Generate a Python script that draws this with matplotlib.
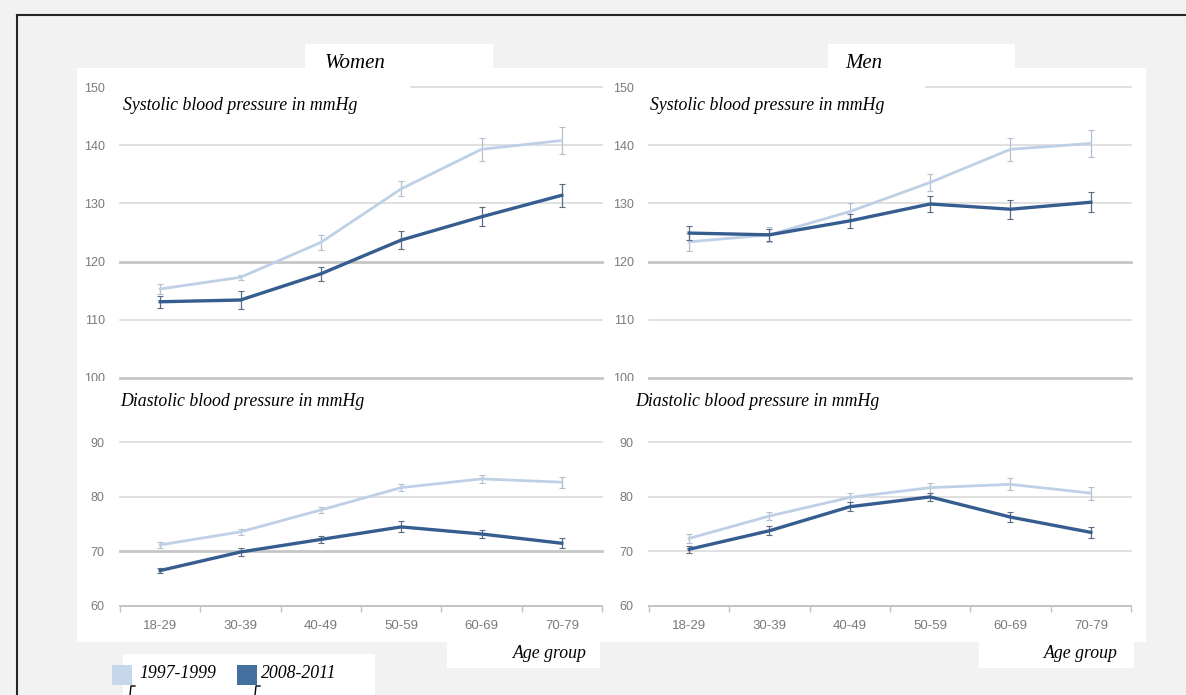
import matplotlib
matplotlib.use("Agg")
import matplotlib.pyplot as plt
from matplotlib.patches import Rectangle
from matplotlib.lines import Line2D

W, H = 1186, 695
DPI = 100

age_groups = ["18-29", "30-39", "40-49", "50-59", "60-69", "70-79"]
periods = ["1997-1999", "2008-2011"]

# systolic / diastolic means (mmHg)
women_sys_9799 = [115.3, 117.3, 123.3, 132.5, 139.3, 140.8]
women_sys_0811 = [113.1, 113.4, 117.9, 123.7, 127.7, 131.4]
women_dia_9799 = [71.2, 73.6, 77.6, 81.7, 83.3, 82.7]
women_dia_0811 = [66.5, 69.9, 72.2, 74.5, 73.2, 71.5]

men_sys_9799 = [123.4, 124.6, 128.6, 133.6, 139.3, 140.3]
men_sys_0811 = [124.9, 124.6, 127.0, 129.9, 129.0, 130.2]
men_dia_9799 = [72.4, 76.5, 79.9, 81.7, 82.3, 80.7]
men_dia_0811 = [70.4, 73.8, 78.2, 80.0, 76.3, 73.5]

# half widths of the confidence intervals
women_sys_9799_err = [0.8, 0.4, 1.3, 1.3, 2.0, 2.3]
women_sys_0811_err = [1.0, 1.5, 1.2, 1.6, 1.6, 2.0]
women_dia_9799_err = [0.5, 0.5, 0.6, 0.6, 0.8, 1.0]
women_dia_0811_err = [0.5, 0.8, 0.7, 1.0, 0.8, 0.9]
men_sys_9799_err = [1.6, 1.3, 1.5, 1.5, 2.0, 2.3]
men_sys_0811_err = [1.2, 1.0, 1.2, 1.3, 1.6, 1.7]
men_dia_9799_err = [0.8, 0.8, 0.8, 0.9, 1.1, 1.2]
men_dia_0811_err = [0.6, 0.8, 0.8, 0.8, 0.9, 1.0]

sys_ticks = [100, 110, 120, 130, 140, 150]
dia_ticks = [60, 70, 80, 90]

LIGHT = "#bfcfe5"
DARK = "#365d8f"
LEGEND_LIGHT = "#c6d7ec"
LEGEND_DARK = "#44709f"
GRID = "#dadada"
GRID_STRONG = "#c6c6c6"
TICK = "#7a7a7a"
SERIF = "Liberation Serif"
SANS = "Liberation Sans"


def px_rect(x0, y0, x1, y1):
    # pixel box (top-down) -> figure fractions
    return [x0 / W, 1 - y1 / H, (x1 - x0) / W, (y1 - y0) / H]


def fx(x):
    return x / W


def fy(y):
    return 1 - y / H


def draw_panel(ax, light, light_err, dark, dark_err, ylim, yticks, strong, mask=None, bottom=False):
    x = list(range(len(age_groups)))
    ax.set_facecolor("none")
    ax.set_xlim(-0.5, 5.5)
    ax.set_ylim(*ylim)
    for s in ax.spines.values():
        s.set_visible(False)

    for v in yticks:
        if bottom and v == yticks[0]:
            continue
        if v in strong:
            ax.axhline(v, color=GRID_STRONG, lw=2.0, zorder=0.5, clip_on=False)
        else:
            ax.axhline(v, color=GRID, lw=1.2, zorder=0.5, clip_on=False)

    if mask is not None:
        # white label box hiding the start of the top gridline
        ax.add_patch(Rectangle((-0.05, 0.9), mask + 0.05, 0.13, transform=ax.transAxes,
                               color="white", zorder=1, clip_on=False))

    ax.errorbar(x, light, yerr=light_err, color=LIGHT, lw=2.0, elinewidth=0.9,
                ecolor="#b3bfcf", capsize=2.5, capthick=0.8, zorder=2)
    ax.errorbar(x, dark, yerr=dark_err, color=DARK, lw=2.4, elinewidth=0.9,
                ecolor="#5b6c84", capsize=2.5, capthick=0.8, zorder=3)

    ax.set_yticks(yticks)
    ax.tick_params(axis="y", length=0, pad=11, labelsize=9, labelcolor=TICK)
    for lab in ax.get_yticklabels():
        lab.set_fontfamily(SANS)

    if bottom:
        ax.spines["bottom"].set_visible(True)
        ax.spines["bottom"].set_color("#c3c3c3")
        ax.spines["bottom"].set_linewidth(1.4)
        ax.set_xticks(x)
        ax.set_xticklabels(age_groups, fontfamily=SANS)
        ax.set_xticks([i - 0.5 for i in range(len(age_groups) + 1)], minor=True)
        ax.tick_params(axis="x", which="major", length=0, pad=10, labelsize=9.5, labelcolor=TICK)
        ax.tick_params(axis="x", which="minor", length=4, width=1, color="#c3c3c3", direction="out")
    else:
        ax.set_xticks([])


fig = plt.figure(figsize=(W / DPI, H / DPI), dpi=DPI)
fig.patch.set_facecolor("#f2f2f2")

# white backgrounds of the scanned figure
white_boxes = [
    (77, 68, 1146, 642),     # chart area
    (305, 44, 493, 68),      # Women title
    (828, 44, 1015, 68),     # Men title
    (447, 640, 600, 668),    # Age group (women)
    (979, 640, 1134, 668),   # Age group (men)
    (123, 654, 375, 695),    # legend
]
for x0, y0, x1, y1 in white_boxes:
    r = px_rect(x0, y0, x1, y1)
    fig.add_artist(Rectangle((r[0], r[1]), r[2], r[3], transform=fig.transFigure,
                             facecolor="white", edgecolor="none", zorder=-1))

# frame lines
fig.add_artist(Line2D([fx(17), fx(1186)], [fy(15), fy(15)], color="#262626", lw=1.5,
                      transform=fig.transFigure))
fig.add_artist(Line2D([fx(17), fx(17)], [fy(15), fy(695)], color="#262626", lw=1.5,
                      transform=fig.transFigure))

ax_w_sys = fig.add_axes(px_rect(120, 87, 602, 378))
ax_w_dia = fig.add_axes(px_rect(120, 426, 602, 606))
ax_m_sys = fig.add_axes(px_rect(649, 87, 1131, 378))
ax_m_dia = fig.add_axes(px_rect(649, 426, 1131, 606))

draw_panel(ax_w_sys, women_sys_9799, women_sys_9799_err, women_sys_0811, women_sys_0811_err,
           (100, 150), sys_ticks, [100, 120], mask=0.60)
draw_panel(ax_w_dia, women_dia_9799, women_dia_9799_err, women_dia_0811, women_dia_0811_err,
           (60, 93), dia_ticks, [70], bottom=True)
draw_panel(ax_m_sys, men_sys_9799, men_sys_9799_err, men_sys_0811, men_sys_0811_err,
           (100, 150), sys_ticks, [100, 120], mask=0.57)
draw_panel(ax_m_dia, men_dia_9799, men_dia_9799_err, men_dia_0811, men_dia_0811_err,
           (60, 93), dia_ticks, [], bottom=True)

# diastolic label boxes partly cover the "100" tick labels
for x0, x1 in [(77, 395), (600, 880)]:
    r = px_rect(x0, 380.5, x1, 420)
    fig.add_artist(Rectangle((r[0], r[1]), r[2], r[3], transform=fig.transFigure,
                             facecolor="white", edgecolor="none", zorder=5))

txt = dict(family=SERIF, style="italic", color="black", zorder=6)
fig.text(fx(355), fy(64), "Women", ha="center", va="center", fontsize=15, **txt)
fig.text(fx(864), fy(64), "Men", ha="center", va="center", fontsize=15, **txt)
fig.text(fx(123), fy(105), "Systolic blood pressure in mmHg", ha="left", va="center", fontsize=12.8, **txt)
fig.text(fx(650), fy(105), "Systolic blood pressure in mmHg", ha="left", va="center", fontsize=12.8, **txt)
fig.text(fx(120), fy(401), "Diastolic blood pressure in mmHg", ha="left", va="center", fontsize=12.8, **txt)
fig.text(fx(635), fy(401), "Diastolic blood pressure in mmHg", ha="left", va="center", fontsize=12.8, **txt)
fig.text(fx(587), fy(653), "Age group", ha="right", va="center", fontsize=12.8, **txt)
fig.text(fx(1118), fy(653), "Age group", ha="right", va="center", fontsize=12.8, **txt)

# legend
for (x0, x1, tx), col, lab in zip([(112, 132, 139), (237, 257, 261)], [LEGEND_LIGHT, LEGEND_DARK], periods):
    r = px_rect(x0, 665, x1, 685)
    fig.add_artist(Rectangle((r[0], r[1]), r[2], r[3], transform=fig.transFigure,
                             facecolor=col, edgecolor="none", zorder=6))
    fig.text(fx(tx), fy(674), lab, ha="left", va="center", fontsize=12.8, **txt)
    # little hooks below the legend keys
    fig.add_artist(Line2D([fx(x1 - 2), fx(x1 - 1), fx(x1 + 3)], [fy(695), fy(686), fy(686)],
                          color="black", lw=1.0, transform=fig.transFigure, zorder=6))

fig.savefig("out.png", dpi=DPI, facecolor=fig.get_facecolor())
